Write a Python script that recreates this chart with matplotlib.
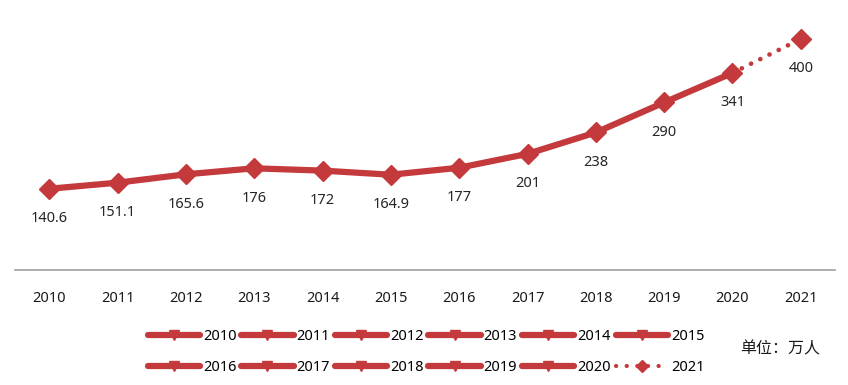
import matplotlib
matplotlib.use('Agg')
import matplotlib.pyplot as plt
from matplotlib.lines import Line2D

plt.rcParams['font.family'] = ['Noto Sans', 'Noto Sans CJK SC']

YEARS = ['2010', '2011', '2012', '2013', '2014', '2015',
         '2016', '2017', '2018', '2019', '2020', '2021']
VALUES = [140.6, 151.1, 165.6, 176, 172, 164.9, 177, 201, 238, 290, 341, 400]
LABELS = ['140.6', '151.1', '165.6', '176', '172', '164.9',
          '177', '201', '238', '290', '341', '400']
UNIT_TEXT = '单位：万人'
RED = '#C4393C'

fig = plt.figure(figsize=(8.48, 3.85), dpi=100)
ax = fig.add_axes([15 / 848, 115 / 385, 820 / 848, 260 / 385])

x = list(range(len(YEARS)))
# solid part up to 2020, dotted forecast to 2021
ax.plot(x[:11], VALUES[:11], color=RED, lw=4.5, solid_capstyle='round',
        marker='D', ms=10, mec=RED, mfc=RED, zorder=3)
ax.plot(x[10:], VALUES[10:], color=RED, lw=3.3, dash_capstyle='round',
        linestyle=(0, (0.05, 2.2)), zorder=2)
ax.plot(x[11:], VALUES[11:], color=RED, marker='D', ms=10, ls='none', zorder=3)

for xi, v, lab in zip(x, VALUES, LABELS):
    ax.annotate(lab, (xi, v), xytext=(0, -21.5), textcoords='offset points',
                ha='center', va='center', fontsize=10.5, color='#262626')

ax.set_xlim(-0.5, 11.5)
ax.set_ylim(0, 450)
ax.set_xticks(x)
ax.set_xticklabels(YEARS, fontsize=10.5, color='#1a1a1a')
ax.tick_params(axis='x', length=0, pad=15)
ax.set_yticks([])
for side in ['left', 'right', 'top']:
    ax.spines[side].set_visible(False)
ax.spines['bottom'].set_color('#a0a0a0')
ax.spines['bottom'].set_linewidth(1.2)

handles = []
for i, yr in enumerate(YEARS):
    if i < 11:
        h = Line2D([], [], color=RED, lw=4.5, solid_capstyle='round',
                   marker='v', ms=7, mec=RED, mfc=RED)
    else:
        h = Line2D([], [], color=RED, lw=3, dash_capstyle='round',
                   linestyle=(0, (0.05, 2.5)), marker='D', ms=6,
                   mec=RED, mfc=RED)
    handles.append(h)

# legend fills column by column, so reorder to read row by row
order = [i + r * 6 for i in range(6) for r in range(2)]
fig.legend([handles[i] for i in order], [YEARS[i] for i in order],
           loc='center', ncol=6,
           bbox_to_anchor=(426 / 848, 1 - 352 / 385), frameon=False,
           fontsize=10.5, handlelength=3.6, handletextpad=0.2,
           columnspacing=0.32, labelspacing=1.1, borderaxespad=0)

fig.text(780 / 848, 1 - 349 / 385, UNIT_TEXT, ha='center', va='center',
         fontsize=11.5, color='#1a1a1a', family='Noto Sans CJK SC')

fig.savefig('out.png', dpi=100, facecolor='white')
